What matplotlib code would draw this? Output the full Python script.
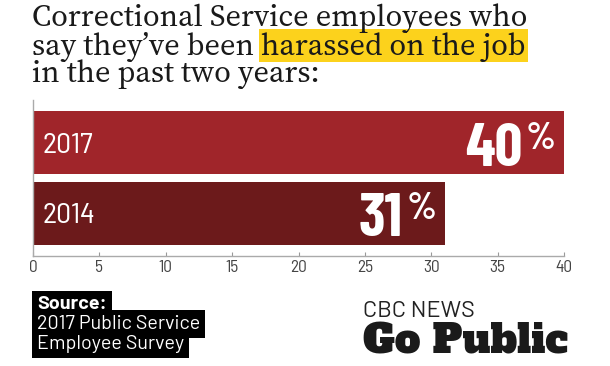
import matplotlib
matplotlib.use("Agg")
import matplotlib.pyplot as plt
from matplotlib.patches import Rectangle

W, H = 610, 366

years = ["2014", "2017"]
values = [31, 40]
bar_colors = ["#6c1a1b", "#a0252a"]
ticks = [0, 5, 10, 15, 20, 25, 30, 35, 40]

title_lines = ["Correctional Service employees who",
               "say they\u2019ve been ",
               "in the past two years:"]
title_mark = "harassed on the job"
source_lines = ["Source:", "2017 Public Service", "Employee Survey"]

COND = ["Barlow Condensed", "DejaVu Sans"]
SEMI = ["Barlow Semi Condensed", "DejaVu Sans"]
SERIF = ["Source Serif 4", "Liberation Serif"]
SANS = ["Barlow", "DejaVu Sans"]


def fx(x):
    return x / W


def fy(y):
    return 1 - y / H


def fit(t, width):
    # scale a text's font size so it spans the given pixel width
    fig.canvas.draw()
    w = t.get_window_extent().width
    t.set_fontsize(t.get_fontsize() * width / w)


fig = plt.figure(figsize=(W / 100, H / 100), dpi=100)
fig.patch.set_facecolor("white")

# bar chart
ax = fig.add_axes([fx(33), fy(256), (564 - 33) / W, 156 / H])
pos = list(range(len(years)))
ax.barh(pos, values, height=0.89, color=bar_colors)
ax.set_xlim(0, 40)
ax.set_ylim(-0.6, 1.6)
ax.set_yticks([])
ax.set_xticks(ticks)
ax.set_xticklabels([str(t) for t in ticks], family=SEMI, fontsize=12.5, color="#444444")
ax.tick_params(axis="x", direction="in", length=3, color="#999999", pad=3)
for s in ["top", "right"]:
    ax.spines[s].set_visible(False)
for s in ["left", "bottom"]:
    ax.spines[s].set_color("#aaaaaa")
    ax.spines[s].set_linewidth(1)

for p, yr, v in zip(pos, years, values):
    ax.annotate(yr, xy=(0, p), xytext=(9, -10), textcoords="offset pixels",
                ha="left", va="baseline", color="white", fontsize=21.5, family=SEMI)
    ax.annotate(str(v), xy=(v, p), xytext=(-42, -23), textcoords="offset pixels",
                ha="right", va="baseline", color="white", fontsize=44,
                fontweight="bold", family=COND)
    ax.annotate("%", xy=(v, p), xytext=(-8, -6), textcoords="offset pixels",
                ha="right", va="baseline", color="white", fontsize=27,
                fontweight="semibold", family=SEMI)

# title
tc = "#1a1a1a"
t1 = fig.text(fx(32), fy(26), title_lines[0], fontsize=23, family=SERIF, color=tc,
              va="baseline")
fit(t1, 495)
fs = t1.get_fontsize()
t2 = fig.text(fx(32), fy(55), title_lines[1], fontsize=fs, family=SERIF, color=tc,
              va="baseline")
fig.text(fx(32), fy(82), title_lines[2], fontsize=fs, family=SERIF, color=tc,
         va="baseline")
fig.canvas.draw()
x1 = t2.get_window_extent().x1
t3 = fig.text(x1 / W, fy(55), title_mark, fontsize=fs, family=SERIF, color=tc,
              va="baseline", zorder=3)
fig.canvas.draw()
bb3 = t3.get_window_extent()
fig.patches.append(Rectangle((fx(bb3.x0 - 2), fy(62)), (bb3.x1 - bb3.x0 + 4) / W, 33 / H,
                             transform=fig.transFigure, facecolor="#fcd21c",
                             edgecolor="none", zorder=1))

# source box
src_y = [309, 329, 349]
src = []
for i, (line, y) in enumerate(zip(source_lines, src_y)):
    src.append(fig.text(fx(37), fy(y), line, fontsize=12, family=SANS, color="white",
                        va="baseline", fontweight="bold" if i == 0 else "normal",
                        bbox=dict(facecolor="black", edgecolor="none",
                                  boxstyle="square,pad=0.25")))
fit(src[1], 164)
for t in src:
    t.set_fontsize(src[1].get_fontsize())

# logo
cbc = fig.text(fx(363), fy(317), "CBC NEWS", fontsize=15, family=SANS,
               color="#222222", va="baseline")
fit(cbc, 112)
gp = fig.text(fx(363), fy(354), "Go Public", fontsize=29, family=["Alfa Slab One", "DejaVu Serif"],
              color="#1a1a1a", va="baseline")
fit(gp, 205)

fig.savefig("out.png", dpi=100)
